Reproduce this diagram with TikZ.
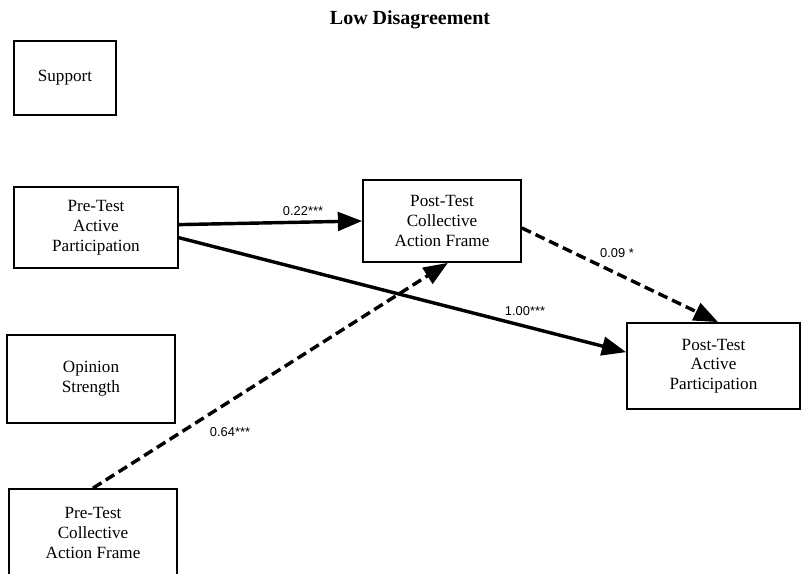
\documentclass[tikz,border=0pt]{standalone}
\usepackage{fontspec}
\setmainfont{Liberation Serif}
\newfontfamily\lblfont{Liberation Sans}
\usetikzlibrary{arrows.meta,positioning}

\begin{document}
\begin{tikzpicture}[x=0.7pt,y=-0.7pt,
  box/.style={draw,line width=1.2pt,align=center,inner sep=0pt,
    font=\fontsize{12}{13.8}\selectfont},
  effect/.style={line width=2.4pt,-{Triangle[length=17pt,width=13pt]}},
  dasheffect/.style={effect,dash pattern=on 7pt off 3.6pt},
  lbl/.style={font=\lblfont\fontsize{9}{10}\selectfont,inner sep=0pt}]
\useasboundingbox (0,0) rectangle (801,573);
\clip (0,0) rectangle (801,573);
% title
\node[font=\bfseries\fontsize{14}{16}\selectfont] (title) at (410,20) {Low Disagreement};
% boxes
\node[box,minimum width=71.4pt,minimum height=51.8pt] (support) at (65,78) {Support};
\node[box,minimum width=114.8pt,minimum height=56.7pt] (preap) at (96,227.5) {Pre-Test\\Active\\Participation};
\node[box,minimum width=110.6pt,minimum height=57.4pt] (postcaf) at (442,221) {Post-Test\\Collective\\Action Frame};
\node[box,minimum width=117.6pt,minimum height=61.6pt] (opinion) at (91,379) {Opinion\\Strength};
\node[box,minimum width=117.6pt,minimum height=61.6pt] (precaf) at (93,533) {Pre-Test\\Collective\\Action Frame};
\node[box,minimum width=121.1pt,minimum height=60.2pt] (postap) at (713.5,366) {Post-Test\\Active\\Participation};
% paths
\draw[effect] (preap.2) -- (postcaf.west);
\draw[effect] (preap.-7) -- (postap.171);
\draw[dasheffect] (postcaf.-5) -- (postap.84);
\draw[dasheffect] (precaf.north) -- (postcaf.-82);
% coefficients
\node[lbl] (c1) at (303,211) {0.22***};
\node[lbl] (c2) at (525,311) {1.00***};
\node[lbl] (c3) at (617,253) {0.09 *};
\node[lbl] (c4) at (230,432) {0.64***};
\end{tikzpicture}
\end{document}
